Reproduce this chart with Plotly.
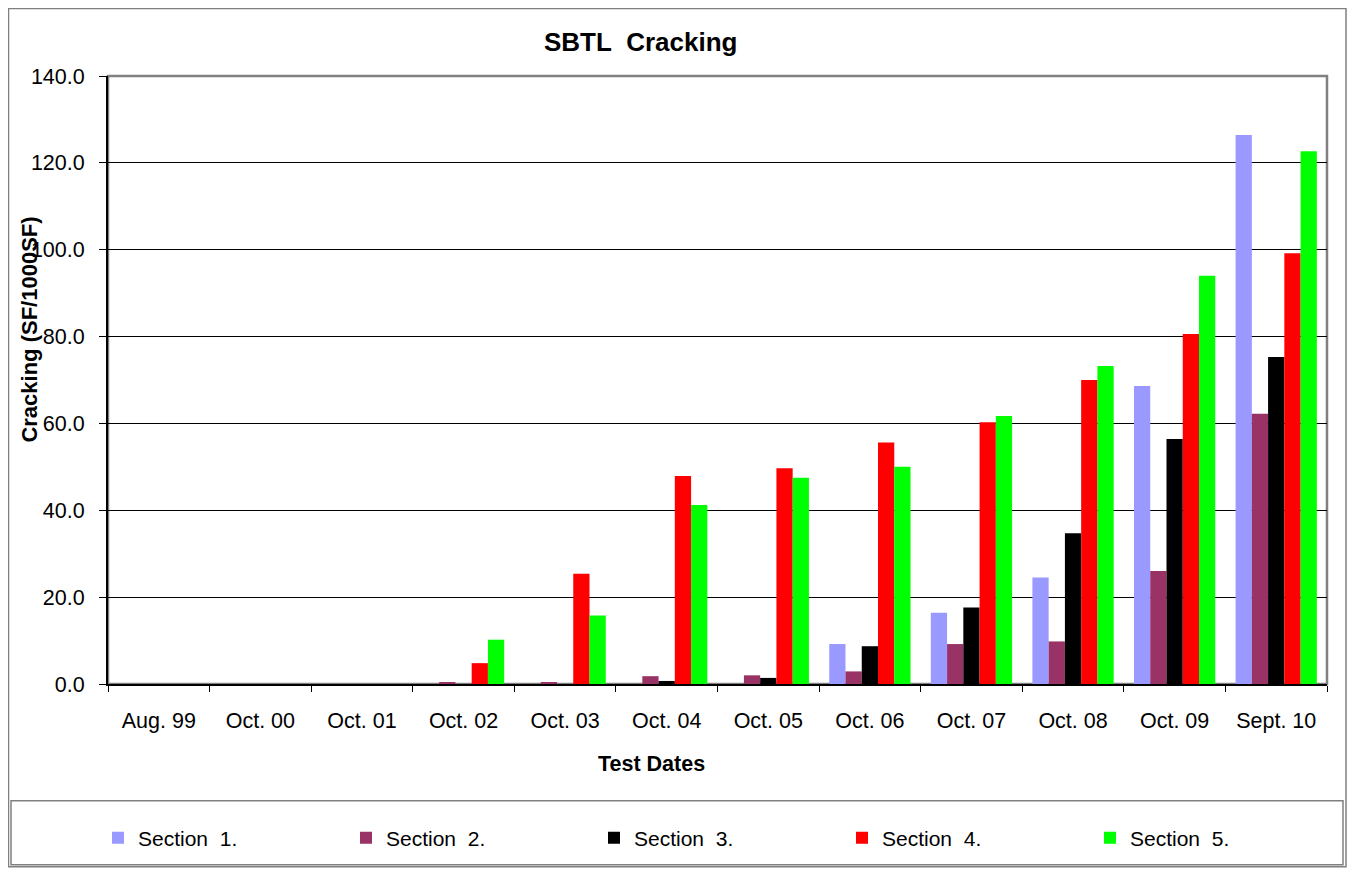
import plotly.graph_objects as go

# ---------------------------------------------------------------------------
# Data
# ---------------------------------------------------------------------------

test_dates = ["Aug. 99", "Oct. 00", "Oct. 01", "Oct. 02", "Oct. 03", "Oct. 04",
              "Oct. 05", "Oct. 06", "Oct. 07", "Oct. 08", "Oct. 09", "Sept. 10"]

section_1 = [0.0, 0.0, 0.0, 0.0, 0.0, 0.0, 0.0, 9.2, 16.4, 24.5, 68.6, 126.4]
section_2 = [0.0, 0.0, 0.0, 0.4, 0.4, 1.8, 2.0, 2.9, 9.2, 9.8, 26.0, 62.2]
section_3 = [0.0, 0.0, 0.0, 0.0, 0.0, 0.7, 1.4, 8.7, 17.6, 34.7, 56.4, 75.3]
section_4 = [0.0, 0.0, 0.0, 4.8, 25.4, 47.9, 49.7, 55.6, 60.3, 70.0, 80.6, 99.2]
section_5 = [0.0, 0.0, 0.0, 10.2, 15.8, 41.2, 47.5, 50.0, 61.7, 73.2, 94.0, 122.7]

series_names = ["Section\u00a0 1.", "Section\u00a0 2.", "Section\u00a0 3.",
                "Section\u00a0 4.", "Section\u00a0 5."]
series_values = [section_1, section_2, section_3, section_4, section_5]
series_colors = ["#9999FF", "#993366", "#000000", "#FF0000", "#00FF00"]

y_ticks = [0, 20, 40, 60, 80, 100, 120, 140]

# ---------------------------------------------------------------------------
# Geometry helpers. The page body has an 8px margin, so figure pixel
# coordinates are page coordinates minus 8.
# ---------------------------------------------------------------------------

OFF = 8
W, H = 1339, 861
L, T = 108 - OFF, 76 - OFF
R = W - (1327 - OFF)
B = H - (685 - OFF)
PW, PH = W - L - R, H - T - B


def px_x(x):
    """page pixel x -> paper x"""
    return (x - OFF - L) / PW


def px_y(y):
    """page pixel y -> paper y"""
    return (H - B - (y - OFF)) / PH


FONT = "Liberation Sans, Arial, sans-serif"

fig = go.Figure()
for name, vals, color in zip(series_names, series_values, series_colors):
    fig.add_trace(go.Bar(
        x=test_dates, y=vals, name=name,
        marker=dict(color=color, line=dict(width=0)),
    ))

fig.update_layout(
    width=W, height=H,
    margin=dict(l=L, r=R, t=T, b=B),
    paper_bgcolor="white", plot_bgcolor="white",
    font=dict(family=FONT, color="black", size=21),
    barmode="group", bargap=0.2, bargroupgap=0,
    title=dict(text="<b>SBTL\u00a0 Cracking</b>", x=px_x(684), xanchor="center",
               y=1 - (42 - OFF) / H, yanchor="middle", font=dict(size=26)),
    showlegend=True,
    legend=dict(
        orientation="h", x=px_x(98), xanchor="left", y=px_y(838), yanchor="middle",
        entrywidth=203, entrywidthmode="pixels",
        font=dict(size=21), bgcolor="rgba(0,0,0,0)", borderwidth=0,
        traceorder="normal",
    ),
    xaxis=dict(
        type="category", showline=True, linecolor="black", linewidth=2,
        ticks="outside", tickson="boundaries", ticklen=6, tickcolor="black",
        ticklabelstandoff=16, tickfont=dict(size=21.5), showgrid=False,
    ),
    yaxis=dict(
        range=[0, 140], tickvals=y_ticks, tickformat=".1f",
        showline=True, linecolor="black", linewidth=2,
        ticks="outside", ticklen=7, tickcolor="black", ticklabelstandoff=10,
        showgrid=True, gridcolor="black", gridwidth=1, zeroline=False,
        tickfont=dict(size=21.5),
    ),
    shapes=[
        # outer chart border
        dict(type="rect", xref="paper", yref="paper", layer="below",
             x0=px_x(8.5), x1=px_x(OFF + W - 1), y0=px_y(OFF + H - 1), y1=px_y(8.5),
             line=dict(color="#808080", width=1.5)),
        # plot area frame (top/right grey)
        dict(type="rect", xref="paper", yref="paper", layer="below",
             x0=0, x1=1, y0=0, y1=1, line=dict(color="#808080", width=2.5)),
        # legend box
        dict(type="rect", xref="paper", yref="paper", layer="below",
             x0=px_x(11), x1=px_x(OFF + W - 4), y0=px_y(OFF + H - 3), y1=px_y(802),
             line=dict(color="#808080", width=1.5)),
    ],
    annotations=[
        dict(text="<b>Cracking (SF/1000SF)</b>", xref="paper", yref="paper",
             x=px_x(30), y=px_y(330), textangle=-90, showarrow=False,
             xanchor="center", yanchor="middle", font=dict(size=22)),
        dict(text="<b>Test Dates</b>", xref="paper", yref="paper",
             x=px_x(651), y=px_y(765), showarrow=False,
             xanchor="center", yanchor="middle", font=dict(size=21.5)),
    ],
)

fig.write_html("out.html")
